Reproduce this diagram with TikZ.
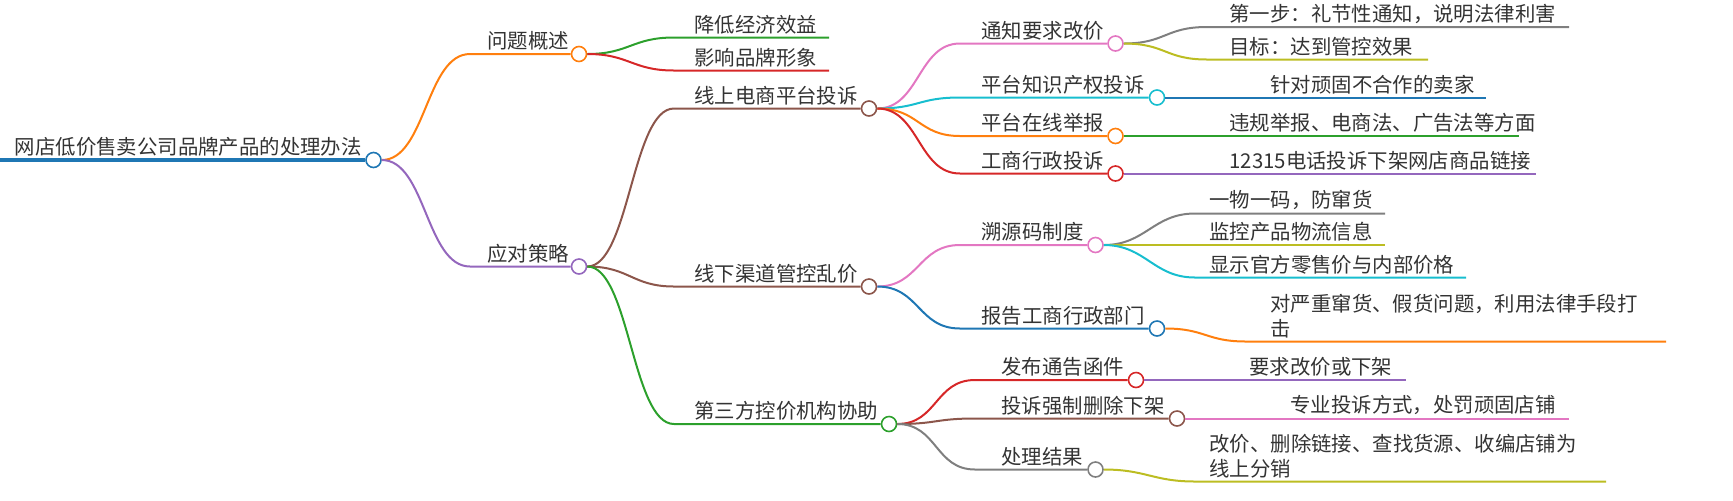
\documentclass[tikz,border=0pt]{standalone}
\usepackage{fontspec}
\setmainfont{Noto Sans CJK SC}

\definecolor{tBlue}{HTML}{1F77B4}
\definecolor{tOrange}{HTML}{FF7F0E}
\definecolor{tGreen}{HTML}{2CA02C}
\definecolor{tRed}{HTML}{D62728}
\definecolor{tPurple}{HTML}{9467BD}
\definecolor{tBrown}{HTML}{8C564B}
\definecolor{tPink}{HTML}{E377C2}
\definecolor{tGray}{HTML}{7F7F7F}
\definecolor{tOlive}{HTML}{BCBD22}
\definecolor{tCyan}{HTML}{17BECF}

\begin{document}
\begin{tikzpicture}[x = 0.5pt, y = -0.5pt,
	edge/.style = {line width = 1pt},
	topic/.style = {anchor = south west, inner sep = 0pt, text = black!80,
		font = \fontsize{10.2pt}{12.5pt}\selectfont, align = left},
	bead/.style = {circle, draw = #1, fill = white, line width = 0.8pt,
		minimum size = 7.5pt, inner sep = 0pt}]

	\useasboundingbox (0, 0) rectangle (1733, 500);

	% Root
	
	\coordinate (root-s) at (0, 160);
	\node [topic] (root) at (14.5, 157) {网店低价售卖公司品牌产品的处理办法};
	\node [bead = tBlue] (root-c) at (373.5, 160) {};
	\draw [line width = 2pt, tBlue] (root-s) -- (root-c.west);

	% Level 1
	
	\coordinate (q-s) at (470, 54);
	\node [topic] (q) at (487, 51) {问题概述};
	\node [bead = tOrange] (q-c) at (579, 54) {};
	\draw [edge, tOrange] (root-c.east) .. controls +(44, 0) and +(-44, 0) .. (q-s) -- (q-c.west);

	\coordinate (s-s) at (470, 266.5);
	\node [topic] (s) at (487, 263.5) {应对策略};
	\node [bead = tPurple] (s-c) at (579, 266.5) {};
	\draw [edge, tPurple] (root-c.east) .. controls +(44, 0) and +(-44, 0) .. (s-s) -- (s-c.west);

	% Level 2: problem
	
	\coordinate (q1-s) at (674, 37.5);
	\coordinate (q1-e) at (829, 37.5);
	\node [topic] (q1) at (694, 34.5) {降低经济效益};
	\draw [edge, tGreen] (q-c.east) .. controls +(42, 0) and +(-42, 0) .. (q1-s) -- (q1-e);

	\coordinate (q2-s) at (674, 70.5);
	\coordinate (q2-e) at (829, 70.5);
	\node [topic] (q2) at (694, 67.5) {影响品牌形象};
	\draw [edge, tRed] (q-c.east) .. controls +(42, 0) and +(-42, 0) .. (q2-s) -- (q2-e);

	% Level 2: strategy
	
	\coordinate (s1-s) at (674, 108.5);
	\node [topic] (s1) at (694, 105.5) {线上电商平台投诉};
	\node [bead = tBrown] (s1-c) at (869, 108.5) {};
	\draw [edge, tBrown] (s-c.east) .. controls +(42, 0) and +(-42, 0) .. (s1-s) -- (s1-c.west);

	\coordinate (s2-s) at (674, 286.5);
	\node [topic] (s2) at (694, 283.5) {线下渠道管控乱价};
	\node [bead = tBrown] (s2-c) at (869, 286.5) {};
	\draw [edge, tBrown] (s-c.east) .. controls +(42, 0) and +(-42, 0) .. (s2-s) -- (s2-c.west);

	\coordinate (s3-s) at (674, 424);
	\node [topic] (s3) at (694, 421) {第三方控价机构协助};
	\node [bead = tGreen] (s3-c) at (889, 424) {};
	\draw [edge, tGreen] (s-c.east) .. controls +(42, 0) and +(-42, 0) .. (s3-s) -- (s3-c.west);

	% Level 3: online
	
	\coordinate (a-s) at (960, 43.5);
	\node [topic] (a) at (981, 40.5) {通知要求改价};
	\node [bead = tPink] (a-c) at (1115.5, 43.5) {};
	\draw [edge, tPink] (s1-c.east) .. controls +(42, 0) and +(-42, 0) .. (a-s) -- (a-c.west);

	\coordinate (b-s) at (960, 97.5);
	\node [topic] (b) at (981, 94.5) {平台知识产权投诉};
	\node [bead = tCyan] (b-c) at (1157, 97.5) {};
	\draw [edge, tCyan] (s1-c.east) .. controls +(42, 0) and +(-42, 0) .. (b-s) -- (b-c.west);

	\coordinate (c-s) at (960, 136);
	\node [topic] (c) at (981, 133) {平台在线举报};
	\node [bead = tOrange] (c-c) at (1115.5, 136) {};
	\draw [edge, tOrange] (s1-c.east) .. controls +(42, 0) and +(-42, 0) .. (c-s) -- (c-c.west);

	\coordinate (d-s) at (960, 173.5);
	\node [topic] (d) at (981, 170.5) {工商行政投诉};
	\node [bead = tRed] (d-c) at (1115.5, 173.5) {};
	\draw [edge, tRed] (s1-c.east) .. controls +(42, 0) and +(-42, 0) .. (d-s) -- (d-c.west);

	% Level 3: offline
	
	\coordinate (e-s) at (960, 245);
	\node [topic] (e) at (981, 242) {溯源码制度};
	\node [bead = tPink] (e-c) at (1095.5, 245) {};
	\draw [edge, tPink] (s2-c.east) .. controls +(42, 0) and +(-42, 0) .. (e-s) -- (e-c.west);

	\coordinate (f-s) at (960, 328.5);
	\node [topic] (f) at (981, 325.5) {报告工商行政部门};
	\node [bead = tBlue] (f-c) at (1157, 328.5) {};
	\draw [edge, tBlue] (s2-c.east) .. controls +(42, 0) and +(-42, 0) .. (f-s) -- (f-c.west);

	% Level 3: third party
	
	\coordinate (g-s) at (975, 380);
	\node [topic] (g) at (1001, 377) {发布通告函件};
	\node [bead = tRed] (g-c) at (1136, 380) {};
	\draw [edge, tRed] (s3-c.east) .. controls +(40, 0) and +(-40, 0) .. (g-s) -- (g-c.west);

	\coordinate (h-s) at (975, 418.5);
	\node [topic] (h) at (1001, 415.5) {投诉强制删除下架};
	\node [bead = tBrown] (h-c) at (1177, 418.5) {};
	\draw [edge, tBrown] (s3-c.east) .. controls +(40, 0) and +(-40, 0) .. (h-s) -- (h-c.west);

	\coordinate (i-s) at (975, 469.5);
	\node [topic] (i) at (1001, 466.5) {处理结果};
	\node [bead = tGray] (i-c) at (1095.5, 469.5) {};
	\draw [edge, tGray] (s3-c.east) .. controls +(40, 0) and +(-40, 0) .. (i-s) -- (i-c.west);

	% Level 4 leaves
	
	\coordinate (a1-s) at (1207, 27);
	\coordinate (a1-e) at (1569, 27);
	\node [topic] (a1) at (1229, 24) {第一步：礼节性通知，说明法律利害};
	\draw [edge, tGray] (a-c.east) .. controls +(42, 0) and +(-42, 0) .. (a1-s) -- (a1-e);

	\coordinate (a2-s) at (1207, 59.5);
	\coordinate (a2-e) at (1428, 59.5);
	\node [topic] (a2) at (1229, 56.5) {目标：达到管控效果};
	\draw [edge, tOlive] (a-c.east) .. controls +(42, 0) and +(-42, 0) .. (a2-s) -- (a2-e);

	\coordinate (b1-e) at (1486, 97.5);
	\node [topic] (b1) at (1270, 94.5) {针对顽固不合作的卖家};
	\draw [edge, tBlue] (b-c.east) -- (b1-e);

	\coordinate (c1-e) at (1519, 136);
	\node [topic] (c1) at (1229, 133) {违规举报、电商法、广告法等方面};
	\draw [edge, tGreen] (c-c.east) -- (c1-e);

	\coordinate (d1-e) at (1536, 173.5);
	\node [topic] (d1) at (1229, 170.5) {12315电话投诉下架网店商品链接};
	\draw [edge, tPurple] (d-c.east) -- (d1-e);

	\coordinate (e1-s) at (1195, 213.5);
	\coordinate (e1-e) at (1385, 213.5);
	\node [topic] (e1) at (1209, 210.5) {一物一码，防窜货};
	\draw [edge, tGray] (e-c.east) .. controls +(42, 0) and +(-42, 0) .. (e1-s) -- (e1-e);

	\coordinate (e2-e) at (1385, 245);
	\node [topic] (e2) at (1209, 242) {监控产品物流信息};
	\draw [edge, tOlive] (e-c.east) -- (e2-e);

	\coordinate (e3-s) at (1195, 277.5);
	\coordinate (e3-e) at (1466, 277.5);
	\node [topic] (e3) at (1209, 274.5) {显示官方零售价与内部价格};
	\draw [edge, tCyan] (e-c.east) .. controls +(42, 0) and +(-42, 0) .. (e3-s) -- (e3-e);

	\coordinate (f1-s) at (1246, 341.5);
	\coordinate (f1-e) at (1666, 341.5);
	\node [topic] (f1) at (1270, 338.5) {对严重窜货、假货问题，利用法律手段打\\击};
	\draw [edge, tOrange] (f-c.east) .. controls +(40, 0) and +(-40, 0) .. (f1-s) -- (f1-e);

	\coordinate (g1-e) at (1406, 380);
	\node [topic] (g1) at (1249, 377) {要求改价或下架};
	\draw [edge, tPurple] (g-c.east) -- (g1-e);

	\coordinate (h1-e) at (1569, 418.5);
	\node [topic] (h1) at (1290, 415.5) {专业投诉方式，处罚顽固店铺};
	\draw [edge, tPink] (h-c.east) -- (h1-e);

	\coordinate (i1-s) at (1195, 481.5);
	\coordinate (i1-e) at (1606, 481.5);
	\node [topic] (i1) at (1209, 478.5) {改价、删除链接、查找货源、收编店铺为\\线上分销};
	\draw [edge, tOlive] (i-c.east) .. controls +(42, 0) and +(-42, 0) .. (i1-s) -- (i1-e);

\end{tikzpicture}
\end{document}
